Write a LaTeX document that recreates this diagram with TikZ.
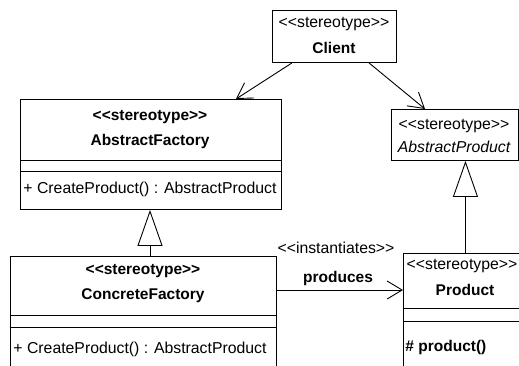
\documentclass[tikz,border=0pt]{standalone}
\usepackage{fontspec}
\setmainfont{Liberation Sans}[Ligatures=TeXOff]
\usetikzlibrary{arrows.meta}
\begin{document}
\begin{tikzpicture}[x=1pt,y=-1pt,
  line width=0.9pt,
  every node/.style={font=\fontsize{15.8}{19}\selectfont},
  bf/.style={font=\fontsize{15.5}{19}\selectfont\bfseries},
  box/.style={draw, rectangle, anchor=north west, inner sep=0pt, line width=0.9pt},
  txt/.style={inner sep=0pt, anchor=center},
  ltxt/.style={inner sep=0pt, anchor=west},
  assoc/.style={-{Straight Barb[length=15pt,width=18pt,line width=0.9pt]}},
  gen/.style={-{Triangle[open,length=36pt,width=25pt,line width=0.9pt]}}]
\useasboundingbox (0,0) rectangle (519,365);
\clip (0,0) rectangle (519,365);
\fill[white] (0,0) rectangle (519,365);

% Client
\node[box, minimum width=124pt, minimum height=52pt] (C) at (272,10) {};
\node[txt] (Cs) at (334,24) {<<stereotype>>};
\node[txt, bf] (Cn) at (334,48) {Client};

% AbstractFactory
\node[box, minimum width=261pt, minimum height=110pt] (AF) at (20,99) {};
\draw ([yshift=-61pt]AF.north west) -- ([yshift=-61pt]AF.north east);
\draw ([yshift=-72pt]AF.north west) -- ([yshift=-72pt]AF.north east);
\node[txt, bf] (AFs) at (150,117) {<<stereotype>>};
\node[txt, bf] (AFn) at (150,141) {AbstractFactory};
\node[ltxt] (AFo) at (23,189) {+ CreateProduct() : AbstractProduct};

% AbstractProduct
\node[box, minimum width=127pt, minimum height=51pt] (AP) at (391,109) {};
\node[txt] (APs) at (454,126) {<<stereotype>>};
\node[txt] (APn) at (454,147) {\itshape AbstractProduct};

% ConcreteFactory
\node[box, minimum width=266pt, minimum height=125pt] (CF) at (10,256) {};
\draw ([yshift=-59pt]CF.north west) -- ([yshift=-59pt]CF.north east);
\draw ([yshift=-71pt]CF.north west) -- ([yshift=-71pt]CF.north east);
\node[txt, bf] (CFs) at (143,271) {<<stereotype>>};
\node[txt, bf] (CFn) at (143,296) {ConcreteFactory};
\node[ltxt] (CFo) at (13,349) {+ CreateProduct() : AbstractProduct};

% Product
\node[box, minimum width=124pt, minimum height=125pt] (P) at (403,253) {};
\draw ([yshift=-55pt]P.north west) -- ([yshift=-55pt]P.north east);
\draw ([yshift=-68pt]P.north west) -- ([yshift=-68pt]P.north east);
\node[txt] (Ps) at (462,266) {<<stereotype>>};
\node[txt, bf] (Pn) at (465,290) {Product};
\node[ltxt, bf] (Po) at (405,347) {\# product()};

% connectors
\draw[assoc] ([xshift=20pt]C.south west) -- ([xshift=216pt]AF.north west);
\draw[assoc] ([xshift=97pt]C.south west) -- ([xshift=34pt]AP.north west);
\draw[gen] ([xshift=140pt]CF.north west) -- ([xshift=130pt]AF.south west);
\draw[gen] (P.north) -- (P.north |- AP.south);
\draw[assoc] ([yshift=-34pt]CF.north east) -- ([yshift=-37pt]P.north west);

\node[txt] (inst) at (336,248) {<<instantiates>>};
\node[txt, bf] (prod) at (338,278) {produces};
\end{tikzpicture}
\end{document}
